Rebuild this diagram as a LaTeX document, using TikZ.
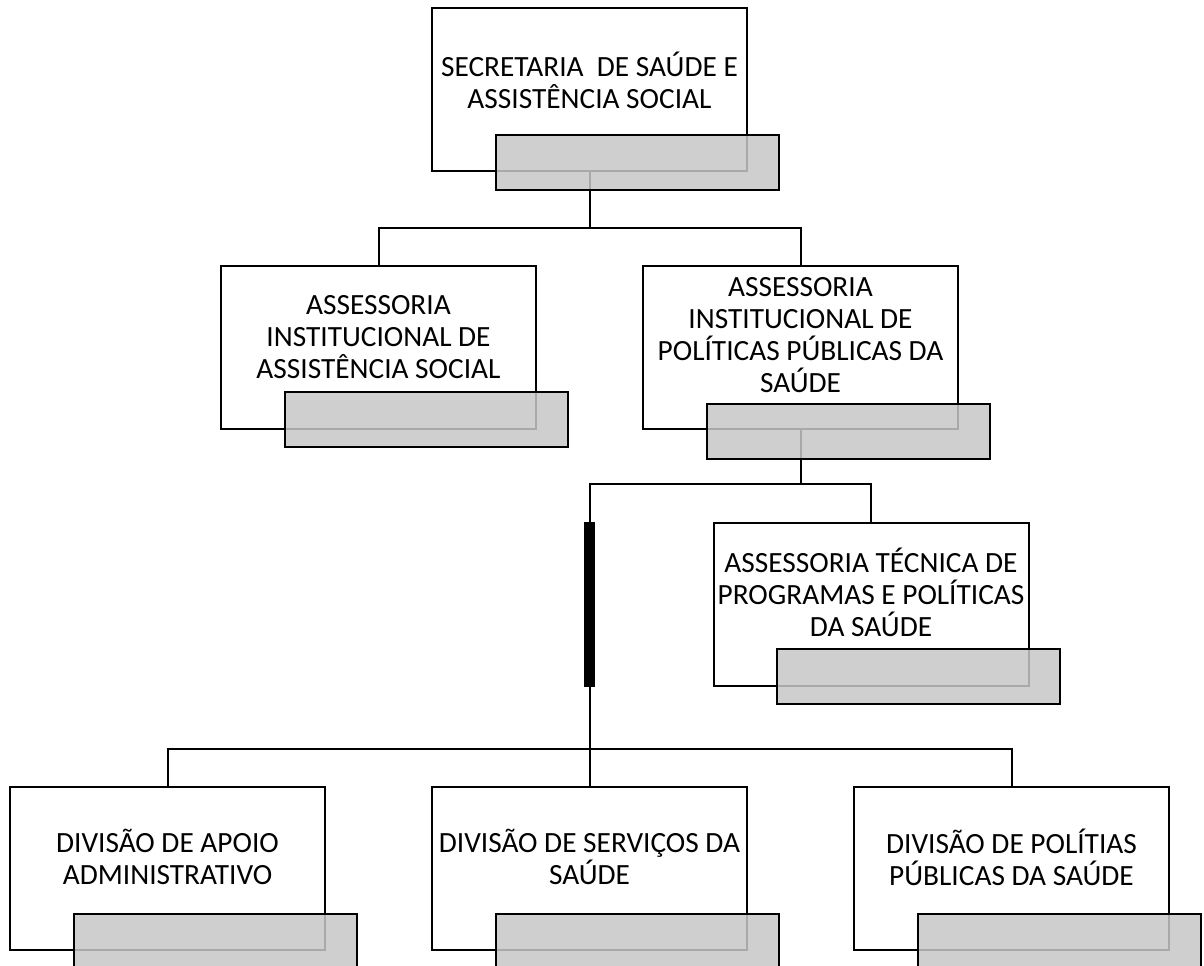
\documentclass[tikz,border=0pt]{standalone}
\usepackage{fontspec}
\setmainfont{Carlito}
\definecolor{shade}{gray}{0.78}
\begin{document}
\begin{tikzpicture}[x=0.75pt,y=-0.75pt,
  box/.style={draw=black, line width=1.5pt, fill=white, rectangle, inner sep=0pt, outer sep=0pt,
    minimum width=236.25pt, minimum height=122.25pt},
  shadebox/.style={draw=black, line width=1.5pt, rectangle, inner sep=0pt, outer sep=0pt,
    fill=shade, fill opacity=0.85, minimum width=212.25pt, minimum height=41.25pt},
  lbl/.style={align=center, inner sep=0pt, font=\fontsize{22}{24}\selectfont},
  conn/.style={line width=1.5pt, draw=black},
  bar/.style={fill=black, draw=none, rectangle, inner sep=0pt, outer sep=0pt,
    minimum width=8.25pt, minimum height=123.75pt}]
\useasboundingbox (0,0) rectangle (1204,965);
% white boxes
\node[box] (top) at (589.5,89.5) {};
\node[box] (ais) at (378.5,347) {};
\node[box] (aip) at (800.5,347) {};
\node[box] (atp) at (871,604) {};
\node[box] (dap) at (167.5,868.5) {};
\node[box] (dss) at (589.5,868.5) {};
\node[box] (dpp) at (1011.5,868.5) {};
\node[bar] (bar) at (589.5,604.5) {};
% junctions
\coordinate (j1) at (589.5,228);
\coordinate (j2) at (800.5,484);
\coordinate (j3) at (589.5,749);
% connectors
\draw[conn] (top.south) -- (j1);
\draw[conn] (j1) -| (ais.north);
\draw[conn] (j1) -| (aip.north);
\draw[conn] (aip.south) -- (j2);
\draw[conn] (j2) -| (atp.north);
\draw[conn] (j2) -| (bar.north);
\draw[conn] (bar.south) -- (j3);
\draw[conn] (j3) -| (dap.north);
\draw[conn] (j3) -| (dpp.north);
\draw[conn] (j3) -- (dss.north);
% labels
\node[lbl] (top-t) at (589.5,80) {SECRETARIA\ \ DE SAÚDE E\\ASSISTÊNCIA SOCIAL};
\node[lbl] (ais-t) at (378.5,337) {ASSESSORIA\\INSTITUCIONAL DE\\ASSISTÊNCIA SOCIAL};
\node[lbl] (aip-t) at (800.5,335) {ASSESSORIA\\INSTITUCIONAL DE\\POLÍTICAS PÚBLICAS DA\\SAÚDE};
\node[lbl] (atp-t) at (871,592) {ASSESSORIA TÉCNICA DE\\PROGRAMAS E POLÍTICAS\\DA SAÚDE};
\node[lbl] (dap-t) at (167.5,857) {DIVISÃO DE APOIO\\ADMINISTRATIVO};
\node[lbl] (dss-t) at (589.5,857) {DIVISÃO DE SERVIÇOS DA\\SAÚDE};
\node[lbl] (dpp-t) at (1011.5,857) {DIVISÃO DE POLÍTIAS\\PÚBLICAS DA SAÚDE};
% shaded boxes
\node[shadebox] (top-s) at (637.5,162.5) {};
\node[shadebox] (ais-s) at (426,419.5) {};
\node[shadebox] (aip-s) at (848.5,431.5) {};
\node[shadebox] (atp-s) at (918,676) {};
\node[shadebox] (dap-s) at (215,941.5) {};
\node[shadebox] (dss-s) at (637.5,941.5) {};
\node[shadebox] (dpp-s) at (1059,941.5) {};
\end{tikzpicture}
\end{document}
